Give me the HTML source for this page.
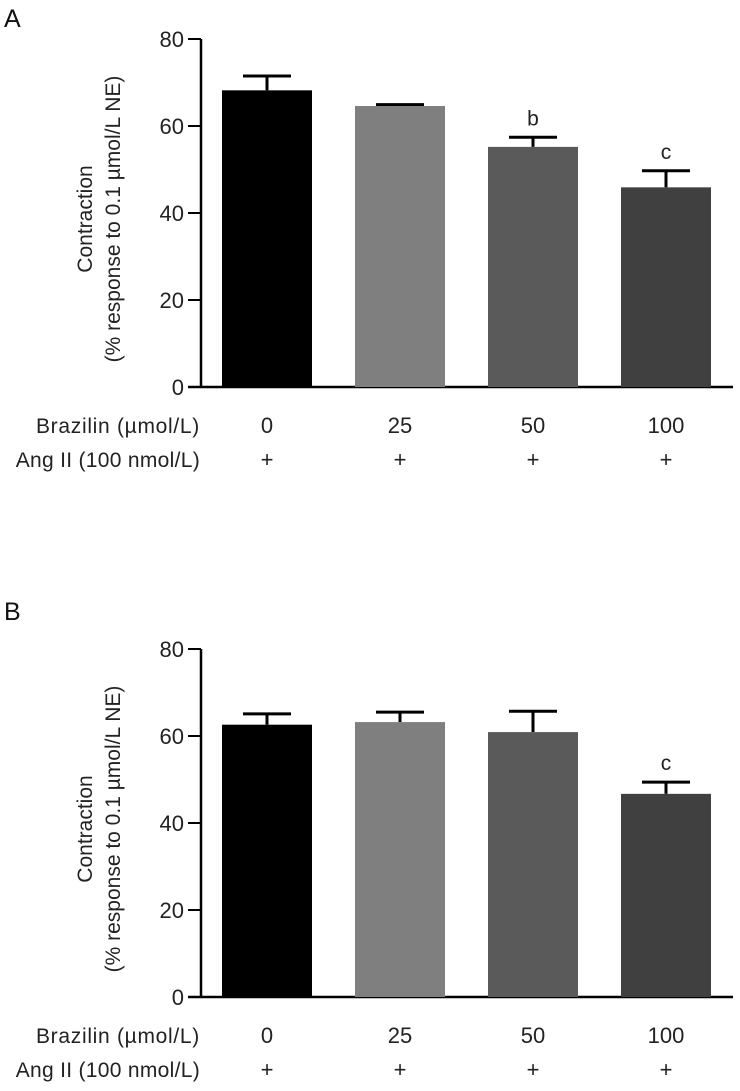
<!DOCTYPE html>
<html><head><meta charset="utf-8"><style>
body{margin:0;background:#fff}
svg{font-family:"Liberation Sans",sans-serif;}
</style></head><body>
<svg id="s" width="740" height="1086"></svg>
<script>
const categories=["0","25","50","100"];
const angLabels=["+","+","+","+"];
const valuesA=[68.2,64.6,55.2,45.9];
const errorsA=[3.3,0.3,2.2,3.8];
const valuesB=[62.6,63.2,60.9,46.7];
const errorsB=[2.5,2.3,4.8,2.7];
const lettersA=["","","b","c"];
const lettersB=["","","","c"];
const yTicks=[0,20,40,60,80];
const colors=["#000000","#7f7f7f","#5a5a5a","#404040"];
const NS="http://www.w3.org/2000/svg";
const svg=document.getElementById('s');
function mk(t,a,p){const e=document.createElementNS(NS,t);for(const k in a)e.setAttribute(k,a[k]);(p||svg).appendChild(e);return e;}
function panel(name,off,vals,errs,letters,label,labelY){
  const g=mk('g',{});
  
  
  const y0=387+off,y80=39+off,ax=201;
  const y=v=>y0-(y0-y80)*v/80;
  const xl=i=>222+i*133;const bw=90;
  let t=mk('text',{x:4,y:labelY,'font-size':25,fill:'#111'},g);t.textContent=label;
  
  mk('line',{x1:ax,y1:y80,x2:ax,y2:y0,stroke:'#000','stroke-width':2.5},g);
  mk('line',{x1:188,y1:y0,x2:733,y2:y0,stroke:'#000','stroke-width':2.5},g);
  yTicks.forEach(v=>{
    mk('line',{x1:188,y1:y(v),x2:ax,y2:y(v),stroke:'#000','stroke-width':2},g);
    const tt=mk('text',{x:184,y:y(v)+8,'font-size':22,'text-anchor':'end',fill:'#222'},g);tt.textContent=v;
    
  });
  const yc=(y0+y80)/2+6;
  const tl=mk('text',{transform:`translate(92,${yc}) rotate(-90)`,'font-size':21,'text-anchor':'middle',fill:'#222'},g);
  tl.textContent='Contraction';
  const tl2=mk('text',{transform:`translate(120,${yc}) rotate(-90)`,'font-size':21,'text-anchor':'middle',fill:'#222'},g);
  tl2.textContent='(% response to 0.1 µmol/L NE)';
  vals.forEach((v,i)=>{
    const cx=xl(i)+bw/2;
    const top=y(v+errs[i]);
    const el=mk('line',{x1:cx,y1:y(v),x2:cx,y2:top,stroke:'#000','stroke-width':3},g);
    
    mk('line',{x1:cx-24,y1:top,x2:cx+24,y2:top,stroke:'#000','stroke-width':3},g);
    const r=mk('rect',{x:xl(i),y:y(v),width:bw,height:y0-y(v),fill:colors[i]},g);
    
    if(letters[i]){const lt=mk('text',{x:cx,y:top-12,'font-size':21,'text-anchor':'middle',fill:'#222'},g);lt.textContent=letters[i];
      }
    const c=mk('text',{x:cx,y:y0+46,'font-size':22,'text-anchor':'middle',fill:'#222'},g);c.textContent=categories[i];
    
    const p=mk('text',{x:cx,y:y0+80,'font-size':22,'text-anchor':'middle',fill:'#222'},g);p.textContent=angLabels[i];
    
  });
  const r1=mk('text',{x:200,y:y0+46,'font-size':21,'letter-spacing':'0.7','text-anchor':'end',fill:'#222'},g);r1.textContent='Brazilin (µmol/L)';
  
  const r2=mk('text',{x:200,y:y0+80,'font-size':21,'letter-spacing':'0.3','text-anchor':'end',fill:'#222'},g);r2.textContent='Ang II (100 nmol/L)';
  
}
panel('a',0,valuesA,errorsA,lettersA,'A',27);
panel('b',610,valuesB,errorsB,lettersB,'B',620);
</script>
</body></html>
